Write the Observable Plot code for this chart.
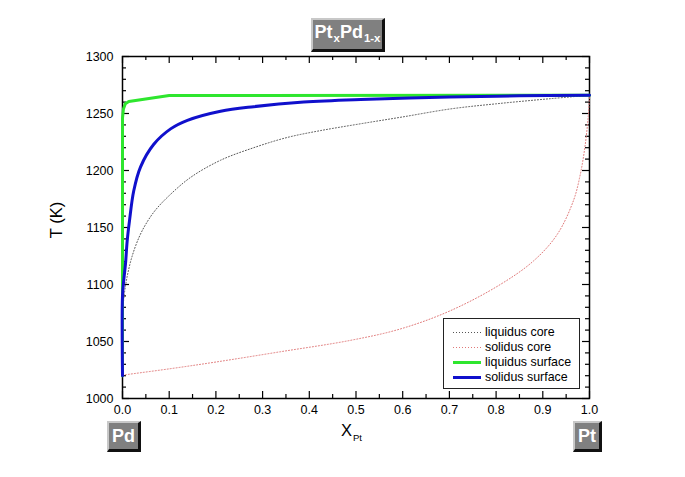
<!DOCTYPE html>
<html>
<head>
<meta charset="utf-8">
<script src="https://cdn.jsdelivr.net/npm/d3@7"></script>
<script src="https://cdn.jsdelivr.net/npm/@observablehq/plot@0.6"></script>
<style>
  html, body { margin: 0; padding: 0; background: #fff; }
  #wrap { position: relative; width: 685px; height: 477px; font-family: "Liberation Sans", Arial, sans-serif; overflow: hidden; }
  #wrap > svg { position: absolute; left: 0; top: 0; }
  .btn { position: absolute; box-sizing: border-box; background: #808080; color: #fff; font-weight: bold;
         border-top: 2px solid #c8c8c8; border-left: 2px solid #c8c8c8; border-right: 3px solid #111; border-bottom: 3px solid #111;
         display: flex; align-items: center; justify-content: center; white-space: nowrap; }
  .lbl { position: absolute; color: #000; white-space: nowrap; }
  #legend { position: absolute; box-sizing: border-box; border: 1px solid #222; background: #fff; font-size: 12.4px; }
  #legend .row { position: absolute; left: 0; height: 15px; display: flex; align-items: center; }
</style>
</head>
<body>
<div id="wrap"></div>
<script>
// ---- data ----
const liqCoreX = [0, 0.004, 0.01, 0.02, 0.035, 0.05, 0.07, 0.1, 0.146, 0.21, 0.281, 0.353, 0.424, 0.51, 0.6, 0.702, 0.8, 0.916, 1.0];
const liqCoreT = [1075, 1092, 1107, 1124, 1141, 1153, 1165, 1178, 1194, 1209, 1220, 1229, 1235, 1241, 1247, 1254, 1258.5, 1263, 1266];

const solCoreX = [0, 0.1, 0.2, 0.338, 0.488, 0.595, 0.702, 0.809, 0.881, 0.931, 0.966, 0.98, 0.99, 0.997, 1.0];
const solCoreT = [1020.5, 1026, 1032, 1041, 1051, 1061, 1077, 1100, 1121, 1144, 1174, 1196, 1220, 1246, 1265];

const liqSurfX = [0, 0, 0.002, 0.006, 0.0135, 0.1, 1.0];
const liqSurfT = [1020, 1246, 1254, 1258.5, 1260.5, 1265.8, 1266];

const solSurfX = [0, 0, 0.003, 0.0064, 0.01, 0.015, 0.024, 0.0385, 0.067, 0.103, 0.139, 0.21, 0.281, 0.388, 0.51, 0.7, 0.85, 1.0];
const solSurfT = [1020, 1090, 1105, 1118, 1138, 1156, 1182, 1203, 1223, 1236.5, 1244, 1252, 1256, 1260, 1262.3, 1264.5, 1265.5, 1266];

const seriesNames = ["liquidus core", "solidus core", "liquidus surface", "solidus surface"];
const xMajor = d3.range(0, 11).map(i => i / 10);
const xMinor = d3.range(0, 10).map(i => i / 10 + 0.05);
const yMajor = d3.range(1000, 1301, 50);
const yMinor = d3.range(1000, 1301, 10).filter(v => v % 50 !== 0);

// ---- styles ----
const styles = [
  {stroke: "#555", strokeWidth: 1, dash: "1,2", curve: "catmull-rom"},
  {stroke: "#e07878", strokeWidth: 1, dash: "1,2", curve: "catmull-rom"},
  {stroke: "#2ee62e", strokeWidth: 3, dash: null, curve: "linear"},
  {stroke: "#1010cc", strokeWidth: 3, dash: null, curve: "catmull-rom"}
];
const seriesData = [
  liqCoreX.map((x, i) => ({x, T: liqCoreT[i]})),
  solCoreX.map((x, i) => ({x, T: solCoreT[i]})),
  liqSurfX.map((x, i) => ({x, T: liqSurfT[i]})),
  solSurfX.map((x, i) => ({x, T: solSurfT[i]}))
];

const W = 685, H = 477, mL = 122, mR = 96, mT = 56, mB = 79;
const innerW = W - mL - mR, innerH = H - mT - mB;
const MAJ = 7, MIN = 4;

const lineMark = k => Plot.line(seriesData[k], {
  x: "x", y: "T", stroke: styles[k].stroke, strokeWidth: styles[k].strokeWidth,
  strokeDasharray: styles[k].dash, curve: styles[k].curve
});

const tick = {stroke: "#000", strokeWidth: 1.2};
const chart = Plot.plot({
  width: W, height: H,
  marginLeft: mL, marginRight: mR, marginTop: mT, marginBottom: mB,
  style: {fontFamily: "Liberation Sans, Arial, sans-serif", fontSize: "12.5px", color: "#000", background: "transparent"},
  x: {domain: [0, 1]},
  y: {domain: [1000, 1300]},
  marks: [
    Plot.frame({stroke: "#000", strokeWidth: 1.5}),
    // inward ticks on all four sides
    Plot.ruleX(xMajor, {x: d => d, insetTop: innerH - MAJ, ...tick}),
    Plot.ruleX(xMinor, {x: d => d, insetTop: innerH - MIN, ...tick}),
    Plot.ruleX(xMajor, {x: d => d, insetBottom: innerH - MAJ, ...tick}),
    Plot.ruleX(xMinor, {x: d => d, insetBottom: innerH - MIN, ...tick}),
    Plot.ruleY(yMajor, {y: d => d, insetRight: innerW - MAJ, ...tick}),
    Plot.ruleY(yMinor, {y: d => d, insetRight: innerW - MIN, ...tick}),
    Plot.ruleY(yMajor, {y: d => d, insetLeft: innerW - MAJ, ...tick}),
    Plot.ruleY(yMinor, {y: d => d, insetLeft: innerW - MIN, ...tick}),
    Plot.axisX(xMajor, {tickSize: 0, tickPadding: 7, tickFormat: d3.format(".1f"), label: null, fontSize: 12.5}),
    Plot.axisY(yMajor, {tickSize: 0, tickPadding: 9, tickFormat: d => String(d), label: null, fontSize: 12.5}),
    // curves: dotted core lines, then green, then blue on top
    lineMark(0), lineMark(1), lineMark(2), lineMark(3)
  ]
});

const wrap = document.getElementById("wrap");
wrap.appendChild(chart);

function addDiv(cls, html, css) {
  const d = document.createElement("div");
  d.className = cls;
  d.innerHTML = html;
  Object.assign(d.style, css);
  wrap.appendChild(d);
  return d;
}

// title button
const sub = 'style="font-size:11.5px;position:relative;top:6px;margin-left:1px"';
addDiv("btn", `Pt<span ${sub}>x</span>Pd<span ${sub}>1-x</span>`,
  {left: "311px", top: "18px", width: "74px", height: "34px", fontSize: "18px", paddingBottom: "5px"});
// end-member buttons
addDiv("btn", "Pd", {left: "107px", top: "421px", width: "34px", height: "31px", fontSize: "18px"});
addDiv("btn", "Pt", {left: "573px", top: "421px", width: "29px", height: "31px", fontSize: "18px"});

// axis labels
addDiv("lbl", "T (K)", {left: "56px", top: "220px", fontSize: "16.5px", transform: "translate(-50%,-50%) rotate(-90deg)"});
addDiv("lbl", 'X<span style="font-size:9.5px;position:relative;top:5px;margin-left:1px">Pt</span>', {left: "341px", top: "421px", fontSize: "16.5px"});

// legend
const legend = addDiv("", "", {left: "443px", top: "318px", width: "137px", height: "71px"});
legend.id = "legend";
const rowTops = [5, 20, 35, 50];
seriesNames.forEach((name, k) => {
  const row = document.createElement("div");
  row.className = "row";
  row.style.top = (rowTops[k] + 0.5) + "px";
  const s = styles[k];
  row.innerHTML = `<svg width="41" height="15"><line x1="9" x2="37" y1="7.5" y2="7.5" stroke="${s.stroke}" stroke-width="${s.strokeWidth}" ${s.dash ? `stroke-dasharray="${s.dash}"` : ""}/></svg><span>${name}</span>`;
  legend.appendChild(row);
});
</script>
</body>
</html>
